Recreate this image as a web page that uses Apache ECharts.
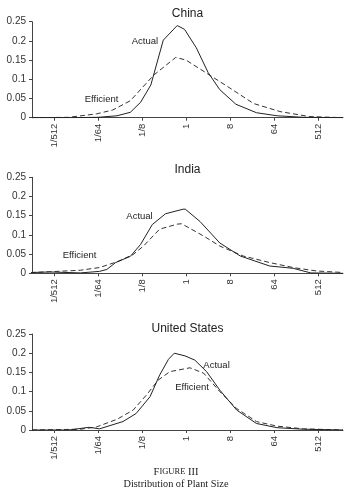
<!DOCTYPE html>
<html><head><meta charset="utf-8">
<script src="https://cdn.jsdelivr.net/npm/echarts@6/dist/echarts.min.js"></script>
<style>html,body{margin:0;padding:0;background:#fff}#c{width:354px;height:490px}</style>
</head><body><div id="c"></div>
<script>
// x values are log2 of relative plant size
const panelTitles = ["China", "India", "United States"];
const xTickValues = [-9, -6, -3, 0, 3, 6, 9];
const xTickLabels = ["1/512", "1/64", "1/8", "1", "8", "64", "512"];
const yTickValues = [0, 0.05, 0.1, 0.15, 0.2, 0.25];

const chinaActual = [[-10.5,0],[-8,0],[-6,0.001],[-4.7,0.005],[-3.8,0.014],[-3.1,0.04],[-2.4,0.085],[-1.55,0.202],[-0.6,0.24],[-0.1,0.23],[0.7,0.182],[1.5,0.118],[2.3,0.073],[3.4,0.035],[4.8,0.013],[6.2,0.005],[8,0.001],[10.7,0]];
const chinaEfficient = [[-10.5,0],[-8,0.001],[-6.1,0.01],[-5,0.02],[-3.8,0.044],[-2.2,0.111],[-0.7,0.157],[0,0.15],[1.4,0.116],[3,0.077],[4.6,0.037],[6.4,0.016],[8.4,0.003],[10.7,0]];
const indiaActual = [[-10.6,0.002],[-9.3,0.0035],[-7.2,0.001],[-5.9,0.005],[-5.4,0.01],[-4.8,0.028],[-3.8,0.044],[-3.1,0.075],[-2.3,0.127],[-1.4,0.155],[-0.2,0.167],[-0.05,0.167],[0.95,0.135],[2.3,0.079],[3.7,0.045],[5.7,0.019],[7.3,0.013],[8.5,0.001],[10.7,0]];
const indiaEfficient = [[-10.6,0.002],[-9.3,0.004],[-7.2,0.008],[-5.9,0.015],[-4.7,0.03],[-3.6,0.049],[-2.9,0.071],[-1.8,0.115],[-0.6,0.128],[-0.3,0.129],[1.2,0.097],[2.3,0.071],[3.9,0.045],[5.7,0.028],[7.3,0.015],[8.9,0.006],[10.3,0.003],[10.7,0.002]];
const usActual = [[-10.5,0],[-8,0],[-6.6,0.007],[-5.9,0.003],[-4.3,0.022],[-3.4,0.043],[-2.45,0.087],[-1.8,0.143],[-1.2,0.184],[-0.8,0.2],[-0.07,0.193],[0.6,0.182],[1.4,0.152],[2.3,0.104],[3.45,0.052],[4.8,0.017],[6.2,0.006],[8,0.002],[10.7,0]];
const usEfficient = [[-10.5,0],[-7.2,0.002],[-6.1,0.008],[-4.7,0.028],[-3.6,0.052],[-2.7,0.091],[-1.9,0.13],[-1.1,0.152],[0.27,0.162],[1.2,0.148],[2.3,0.1],[3.45,0.056],[4.8,0.022],[6.2,0.01],[8,0.003],[10.7,0]];

const seriesActual = [chinaActual, indiaActual, usActual];
const seriesEfficient = [chinaEfficient, indiaEfficient, usEfficient];
// label anchor points in data units [log2 size, share]
const actualLabelAt = [[-2.8,0.198],[-3.17,0.148],[2.08,0.169]];
const efficientLabelAt = [[-5.76,0.049],[-7.26,0.047],[0.41,0.110]];

const gridTops = [21.7, 177.3, 334];
const gridH = 96;
const titleTops = [8, 164, 323];
const FONT = "Liberation Sans, Arial, sans-serif";

const grids = [], xAxes = [], yAxes = [], series = [], titles = [];
for (let i = 0; i < 3; i++) {
  grids.push({left: 32, width: 311, top: gridTops[i], height: gridH, containLabel: false});
  xAxes.push({
    type: 'value', gridIndex: i, min: -10.5, max: 10.7,
    splitLine: {show: false},
    axisLine: {show: true, onZero: false, lineStyle: {color: '#444', width: 1}},
    axisTick: {show: true, length: 3, lineStyle: {color: '#444'}, customValues: xTickValues},
    axisLabel: {show: true, rotate: 90, margin: 6, fontSize: 9.5, color: '#333', fontFamily: FONT,
      customValues: xTickValues,
      formatter: v => { const k = xTickValues.indexOf(Math.round(v)); return k >= 0 ? xTickLabels[k] : ''; }}
  });
  yAxes.push({
    type: 'value', gridIndex: i, min: 0, max: 0.25, interval: 0.05,
    splitLine: {show: false},
    axisLine: {show: true, onZero: false, lineStyle: {color: '#444', width: 1}},
    axisTick: {show: true, length: 3, lineStyle: {color: '#444'}},
    axisLabel: {margin: 6, fontSize: 10, color: '#333', fontFamily: FONT}
  });
  series.push({
    type: 'line', xAxisIndex: i, yAxisIndex: i, data: seriesActual[i],
    showSymbol: false, symbol: 'none', lineStyle: {color: '#222', width: 1}, z: 3,
    markPoint: {symbol: 'circle', symbolSize: 0, data: [{coord: actualLabelAt[i], value: 'Actual'}],
      label: {show: true, position: 'inside', formatter: 'Actual', fontSize: 9.5, color: '#222', fontFamily: FONT}}
  });
  series.push({
    type: 'line', xAxisIndex: i, yAxisIndex: i, data: seriesEfficient[i],
    showSymbol: false, symbol: 'none', lineStyle: {color: '#333', width: 1, type: [5, 3]}, z: 2,
    markPoint: {symbol: 'circle', symbolSize: 0, data: [{coord: efficientLabelAt[i], value: 'Efficient'}],
      label: {show: true, position: 'inside', formatter: 'Efficient', fontSize: 9.5, color: '#222', fontFamily: FONT}}
  });
  titles.push({text: panelTitles[i], left: 187.5, top: titleTops[i], textAlign: 'center', padding: 0,
    textStyle: {fontSize: 12, fontWeight: 'normal', color: '#222', fontFamily: FONT}});
}
titles.push({
  text: '{a|F}{b|IGURE}{a| III}\n{c|Distribution of Plant Size}',
  left: 176, top: 466, textAlign: 'center', padding: 0,
  textStyle: {fontWeight: 'normal', rich: {
    a: {fontSize: 10.5, fontWeight: 'normal', fontFamily: 'Liberation Serif, serif', color: '#222', lineHeight: 12, align: 'center'},
    b: {fontSize: 8.5, fontWeight: 'normal', fontFamily: 'Liberation Serif, serif', color: '#222', lineHeight: 12, align: 'center'},
    c: {fontSize: 10.3, fontWeight: 'normal', fontFamily: 'Liberation Serif, serif', color: '#222', lineHeight: 13, align: 'center'}
  }}
});

const chart = echarts.init(document.getElementById('c'), null, {renderer: 'canvas'});
chart.setOption({animation: false, title: titles, grid: grids, xAxis: xAxes, yAxis: yAxes, series: series});
</script></body></html>
